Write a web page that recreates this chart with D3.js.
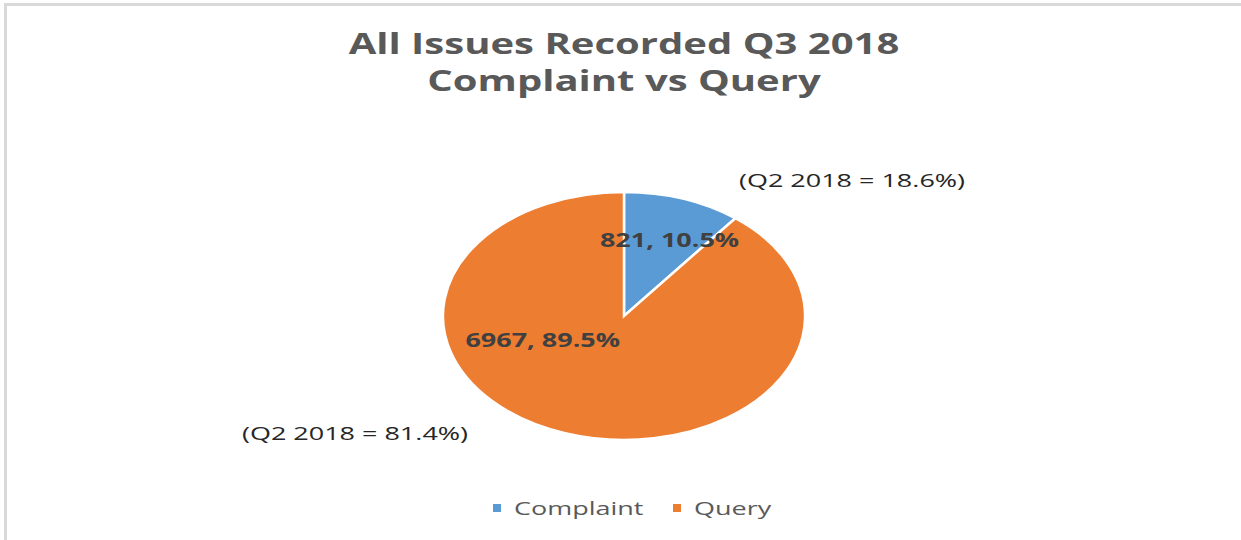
<!DOCTYPE html>
<html>
<head>
<meta charset="utf-8">
<script src="https://cdn.jsdelivr.net/npm/d3@7"></script>
<style>
  body { margin: 0; background: #fff; }
  text { font-family: "Open Sans", sans-serif; }
</style>
</head>
<body>
<div class="visHolder"></div>
<script>
let categories = ["Complaint", "Query"];
let issueCounts = [821, 6967];
let previousShare = [18.6, 81.4];
let previousLabel = "Q2 2018";
let titleLines = ["All Issues Recorded Q3 2018", "Complaint vs Query"];
let colors = ["#5b9bd5", "#ed7d31"];

let width = 1241;
let height = 540;

// the original picture is stretched sideways, text too
let textStretch = 1.42;

let svg = d3
  .select(".visHolder")
  .append("svg")
  .attr("width", width)
  .attr("height", height);

svg
  .append("rect")
  .attr("x", 5.5)
  .attr("y", 4.5)
  .attr("width", width + 20)
  .attr("height", height + 20)
  .attr("fill", "none")
  .attr("stroke", "#d9d9d9")
  .attr("stroke-width", 3);

function place(x, y, s) {
  return "translate(" + x + "," + y + ") scale(" + (s || textStretch) + ",1)";
}

// title
svg
  .selectAll(".title")
  .data(titleLines)
  .enter()
  .append("text")
  .attr("class", "title")
  .attr("transform", (d, i) => place(624, 54 + i * 37, 1.43))
  .attr("text-anchor", "middle")
  .attr("font-size", 28)
  .attr("font-weight", "bold")
  .attr("fill", "#595959")
  .text((d) => d);

let cx = 624;
let cy = 316;
let radius = 124;
let stretch = 1.46;

let total = d3.sum(issueCounts);
let pie = d3.pie().sort(null).value((d) => d);
let arcs = pie(issueCounts);

let arc = d3.arc().innerRadius(0).outerRadius(radius);

let pieGroup = svg
  .append("g")
  .attr("transform", "translate(" + cx + "," + cy + ") scale(" + stretch + ",1)");

pieGroup
  .selectAll("path")
  .data(arcs)
  .enter()
  .append("path")
  .attr("d", arc)
  .attr("fill", (d, i) => colors[i])
  .attr("stroke", "#fff")
  .attr("stroke-width", 2.5)
  .attr("vector-effect", "non-scaling-stroke");

// data labels (angle / distance chosen like Excel "best fit")
let labelSpots = [
  { angle: (arcs[0].startAngle + arcs[0].endAngle) / 2 + 0.06, dist: 0.66 },
  { angle: 4.3, dist: 0.49 }
];

svg
  .selectAll(".dlabel")
  .data(arcs)
  .enter()
  .append("text")
  .attr("class", "dlabel")
  .attr("transform", (d, i) =>
    place(
      cx + Math.sin(labelSpots[i].angle) * radius * labelSpots[i].dist * stretch,
      cy - Math.cos(labelSpots[i].angle) * radius * labelSpots[i].dist + 7
    )
  )
  .attr("text-anchor", "middle")
  .attr("font-size", 19)
  .attr("font-weight", "bold")
  .attr("fill", "#404040")
  .text((d) => d.data + ", " + ((d.data / total) * 100).toFixed(1) + "%");

// previous quarter notes
let notePos = [
  [852, 187],
  [355, 440]
];
svg
  .selectAll(".note")
  .data(previousShare)
  .enter()
  .append("text")
  .attr("class", "note")
  .attr("transform", (d, i) => place(notePos[i][0], notePos[i][1]))
  .attr("text-anchor", "middle")
  .attr("font-size", 19)
  .attr("fill", "#262626")
  .text((d) => "(" + previousLabel + " = " + d.toFixed(1) + "%)");

// legend
let legendX = [493, 673];
let legend = svg
  .selectAll(".legend")
  .data(categories)
  .enter()
  .append("g")
  .attr("class", "legend")
  .attr("transform", (d, i) => "translate(" + legendX[i] + ",508)");

legend
  .append("rect")
  .attr("x", 0)
  .attr("y", -4)
  .attr("width", 8)
  .attr("height", 8)
  .attr("fill", (d, i) => colors[i]);

legend
  .append("text")
  .attr("transform", place(21, 7))
  .attr("font-size", 19)
  .attr("fill", "#595959")
  .text((d) => d);
</script>
</body>
</html>
